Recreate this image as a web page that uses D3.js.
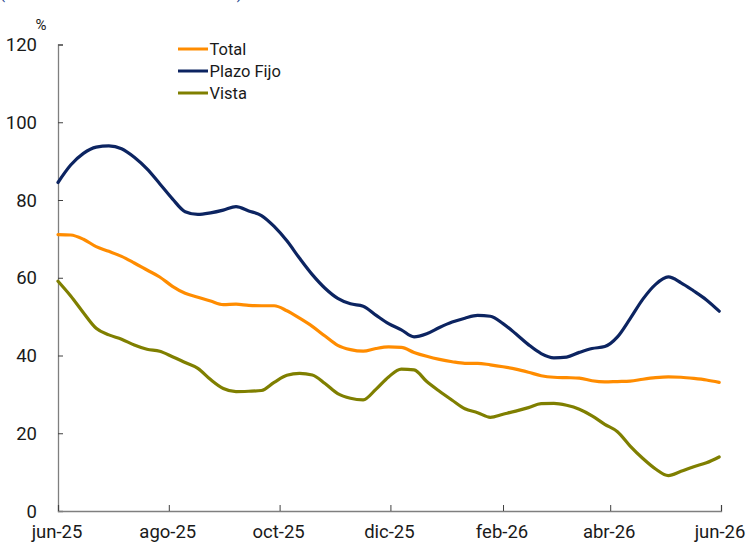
<!DOCTYPE html>
<html>
<head>
<meta charset="utf-8">
<script src="https://cdn.jsdelivr.net/npm/d3@7"></script>
<style>
  html, body { margin: 0; padding: 0; background: #fff; }
  svg { display: block; font-family: Roboto, "Liberation Sans", sans-serif; }
</style>
</head>
<body>
<svg id="chart" width="753" height="542"></svg>
<script>
// Weekly observations, June 2025 – May 2026
const dates = [
  "2025-06-01","2025-06-08","2025-06-15","2025-06-22","2025-06-29",
  "2025-07-06","2025-07-13","2025-07-20","2025-07-27","2025-08-03",
  "2025-08-10","2025-08-17","2025-08-24","2025-08-31","2025-09-07",
  "2025-09-14","2025-09-21","2025-09-28","2025-10-05","2025-10-12",
  "2025-10-19","2025-10-26","2025-11-02","2025-11-09","2025-11-16",
  "2025-11-23","2025-11-30","2025-12-07","2025-12-14","2025-12-21",
  "2025-12-28","2026-01-04","2026-01-11","2026-01-18","2026-01-25",
  "2026-02-01","2026-02-08","2026-02-15","2026-02-22","2026-03-01",
  "2026-03-08","2026-03-15","2026-03-22","2026-03-29","2026-04-05",
  "2026-04-12","2026-04-19","2026-04-26","2026-05-03","2026-05-10",
  "2026-05-17","2026-05-24","2026-05-31"
];

const total = [
  71.1, 71.0, 69.9, 68.0, 66.8, 65.5, 63.8, 62.0, 60.2, 57.8,
  56.0, 55.0, 54.0, 53.1, 53.2, 52.9, 52.8, 52.8, 51.5, 49.6,
  47.5, 45.0, 42.6, 41.5, 41.1, 41.8, 42.2, 42.1, 40.8, 39.8,
  39.0, 38.4, 38.0, 38.0, 37.6, 37.1, 36.5, 35.7, 34.8, 34.4,
  34.3, 34.2, 33.5, 33.2, 33.3, 33.4, 33.9, 34.3, 34.5, 34.4,
  34.1, 33.7, 33.1
];

const plazoFijo = [
  84.5, 89.0, 92.0, 93.6, 93.9, 93.2, 91.0, 88.0, 84.2, 80.3,
  77.0, 76.3, 76.7, 77.4, 78.3, 77.2, 76.0, 73.2, 69.5, 65.0,
  60.8, 57.3, 54.7, 53.3, 52.7, 50.4, 48.2, 46.6, 44.8, 45.6,
  47.2, 48.6, 49.6, 50.3, 50.1, 48.2, 45.6, 42.8, 40.5, 39.4,
  39.6, 40.8, 41.8, 42.3, 44.8, 49.5, 54.5, 58.3, 60.2, 58.7,
  56.6, 54.3, 51.4
];

const vista = [
  59.1, 55.3, 51.0, 47.0, 45.3, 44.2, 42.7, 41.6, 41.1, 39.7,
  38.2, 36.7, 33.8, 31.5, 30.7, 30.8, 31.0, 33.1, 34.9, 35.4,
  35.0, 32.8, 30.2, 29.0, 28.6, 31.3, 34.5, 36.5, 36.3, 33.3,
  30.8, 28.5, 26.3, 25.3, 24.1, 24.9, 25.7, 26.6, 27.6, 27.7,
  27.2, 26.2, 24.5, 22.3, 20.4, 16.7, 13.5, 10.8, 9.1, 10.2,
  11.4, 12.4, 13.9
];

const seriesNames = ["Total", "Plazo Fijo", "Vista"];
const seriesColors = ["#ff8c00", "#0c2461", "#7f7f00"];
const yTicks = [0, 20, 40, 60, 80, 100, 120];
const xTickDates = ["2025-06-01","2025-08-01","2025-10-01","2025-12-01","2026-02-01","2026-04-01","2026-06-01"];

const monthNames = ["ene","feb","mar","abr","may","jun","jul","ago","sep","oct","nov","dic"];
const parse = d3.timeParse("%Y-%m-%d");
const fmtMonth = d => monthNames[d.getMonth()] + "-" + String(d.getFullYear()).slice(2);

const svg = d3.select("#chart");
const margin = { left: 58, right: 32, top: 44.5, bottom: 31 };
const W = 753, H = 542;

const x = d3.scaleTime()
  .domain([parse("2025-06-01"), parse("2026-06-01")])
  .range([margin.left, W - margin.right]);
const y = d3.scaleLinear()
  .domain([0, 120])
  .range([H - margin.bottom, margin.top]);

// Subtitle line running off the top edge
svg.append("text")
  .attr("x", 0).attr("y", -1)
  .attr("fill", "#1f3f8f")
  .attr("font-size", 15)
  .attr("textLength", 242)
  .attr("lengthAdjust", "spacing")
  .text("(variación interanual en %)");

// Y axis
const yAxis = svg.append("g")
  .attr("transform", `translate(${margin.left},0)`)
  .call(d3.axisRight(y).tickValues(yTicks).tickSize(5).tickFormat(""));
yAxis.select(".domain").attr("stroke", "#7f7f7f").attr("stroke-width", 1.3);
yAxis.selectAll(".tick line").attr("stroke", "#404040");

svg.append("g").selectAll("text")
  .data(yTicks)
  .join("text")
  .attr("x", 37)
  .attr("y", d => y(d))
  .attr("dy", "0.36em")
  .attr("text-anchor", "end")
  .attr("font-size", 18.5)
  .attr("fill", "#1a1a1a")
  .text(d => d);

svg.append("text")
  .attr("x", 35.5).attr("y", 30)
  .attr("font-size", 15)
  .attr("fill", "#1a1a1a")
  .text("%");

// X axis
const xAxis = svg.append("g")
  .attr("transform", `translate(0,${y(0)})`)
  .call(d3.axisTop(x).tickValues(xTickDates.map(parse)).tickSize(6).tickFormat(""));
xAxis.select(".domain").attr("stroke", "#7f7f7f").attr("stroke-width", 1.3);
xAxis.selectAll(".tick line").attr("stroke", "#404040");

svg.append("g").selectAll("text")
  .data(xTickDates.map(parse))
  .join("text")
  .attr("x", d => x(d) - 1)
  .attr("y", y(0) + 26.5)
  .attr("text-anchor", "middle")
  .attr("font-size", 18.5)
  .attr("fill", "#1a1a1a")
  .text(fmtMonth);

// Lines
const seriesValues = [total, plazoFijo, vista];
const parsedDates = dates.map(parse);
const line = d3.line()
  .x(d => x(d[0]))
  .y(d => y(d[1]))
  .curve(d3.curveMonotoneX);

// Vista first, then Total, then Plazo Fijo on top
[2, 0, 1].forEach(i => {
  svg.append("path")
    .datum(parsedDates.map((d, j) => [d, seriesValues[i][j]]))
    .attr("fill", "none")
    .attr("stroke", seriesColors[i])
    .attr("stroke-width", 3.2)
    .attr("stroke-linejoin", "round")
    .attr("stroke-linecap", "round")
    .attr("d", line);
});

// Legend
const legend = svg.append("g");
seriesNames.forEach((name, i) => {
  const ly = 49 + i * 22;
  legend.append("line")
    .attr("x1", 178).attr("x2", 208)
    .attr("y1", ly).attr("y2", ly)
    .attr("stroke", seriesColors[i])
    .attr("stroke-width", 3);
  legend.append("text")
    .attr("x", 209.5).attr("y", ly)
    .attr("dy", "0.36em")
    .attr("font-size", 16.5)
    .attr("fill", "#1a1a1a")
    .text(name);
});
</script>
</body>
</html>
